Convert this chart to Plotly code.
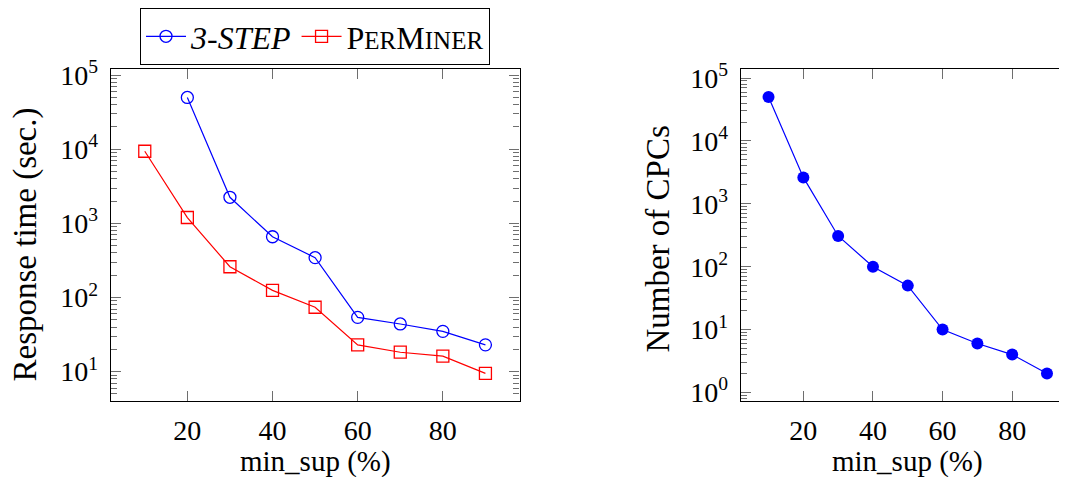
import plotly.graph_objects as go

# ---- data ----
min_sup = [10, 20, 30, 40, 50, 60, 70, 80, 90]
step3_x = [20, 30, 40, 50, 60, 70, 80, 90]
step3_time = [50000, 2250, 660, 345, 54, 44, 35, 23]
perminer_x = [10, 20, 30, 40, 50, 60, 70, 80, 90]
perminer_time = [9400, 1200, 260, 125, 74, 23, 18.3, 16.2, 9.5]
cpc_count = [50000, 2630, 308, 100, 50, 10, 6, 4, 2]

x_ticks = [20, 40, 60, 80]
y1_ticks = [1, 2, 3, 4, 5]
y2_ticks = [0, 1, 2, 3, 4, 5]

FONT = "Liberation Serif"
OFF = 8  # page body margin
W, H = 1067 - OFF, 477 - OFF
BLUE = "#0000ff"
RED = "#ff0000"
TICKC = "#6e6e6e"
TICK_FS = 28

fig = go.Figure()

fig.add_trace(go.Scatter(
    x=step3_x, y=step3_time, mode="lines+markers", name="<i>3-STEP</i>",
    line=dict(color=BLUE, width=1.2),
    marker=dict(symbol="circle-open", size=12, color=BLUE, line=dict(width=1.3)),
    xaxis="x", yaxis="y"))
fig.add_trace(go.Scatter(
    x=perminer_x, y=perminer_time, mode="lines+markers",
    name="P<span style='font-size:25px'>ER</span>M<span style='font-size:25px'>INER</span>",
    line=dict(color=RED, width=1.2),
    marker=dict(symbol="square-open", size=12, color=RED, line=dict(width=1.3)),
    xaxis="x", yaxis="y"))
fig.add_trace(go.Scatter(
    x=min_sup, y=cpc_count, mode="lines+markers", showlegend=False,
    line=dict(color=BLUE, width=1.2),
    marker=dict(symbol="circle", size=12, color=BLUE),
    xaxis="x2", yaxis="y2"))

def px_x(p):
    return (p - OFF) / W

def px_y(p):
    return 1 - (p - OFF) / H

ydom = [px_y(400.7), px_y(66.7)]

common_x = dict(
    showgrid=False, zeroline=False, showline=True, linecolor="black", linewidth=1.2,
    ticks="inside", ticklen=10, tickcolor=TICKC, tickwidth=1,
    tickmode="array", tickvals=x_ticks, ticktext=[str(v) for v in x_ticks],
    tickfont=dict(family=FONT, size=TICK_FS, color="black"),
    ticklabelstandoff=4, automargin=False,
)
minor_y = dict(ticks="inside", ticklen=6, tickcolor=TICKC, tickwidth=1, dtick="D1", showgrid=False)

fig.update_layout(
    width=W, height=H,
    margin=dict(l=0, r=0, t=0, b=0),
    paper_bgcolor="white", plot_bgcolor="white",
    font=dict(family=FONT, size=TICK_FS, color="black"),
    xaxis=dict(domain=[px_x(110.7), px_x(519.5)], range=[2, 98], mirror="ticks",
               anchor="y", **common_x),
    yaxis=dict(domain=ydom, type="log", range=[0.602, 5.078], anchor="x",
               showgrid=False, zeroline=False, showline=True, linecolor="black", linewidth=1.2,
               mirror="ticks", ticks="inside", ticklen=10, tickcolor=TICKC, tickwidth=1,
               tickmode="array", tickvals=[10 ** v for v in y1_ticks],
               ticktext=["10<sup>%d</sup>" % v for v in y1_ticks],
               tickfont=dict(family=FONT, size=TICK_FS, color="black"),
               ticklabelstandoff=6, minor=minor_y, automargin=False),
    xaxis2=dict(domain=[px_x(740.7), 1.0], range=[2, 95.75], mirror="ticks",
                anchor="y2", **common_x),
    yaxis2=dict(domain=ydom, type="log", range=[-0.139, 5.139], anchor="x2",
                showgrid=False, zeroline=False, showline=True, linecolor="black", linewidth=1.2,
                mirror=False, ticks="inside", ticklen=10, tickcolor=TICKC, tickwidth=1,
                tickmode="array", tickvals=[10 ** v for v in y2_ticks],
                ticktext=["10<sup>%d</sup>" % v for v in y2_ticks],
                tickfont=dict(family=FONT, size=TICK_FS, color="black"),
                ticklabelstandoff=6, minor=minor_y, automargin=False),
    showlegend=True,
    legend=dict(orientation="h", x=px_x(315), y=px_y(33.5), xanchor="center", yanchor="middle",
                bordercolor="black", borderwidth=1, bgcolor="white",
                font=dict(family=FONT, size=32, color="black"),
                itemwidth=40, tracegroupgap=0),
)

ann = [
    dict(text="Response time (sec.)", x=px_x(25), y=px_y(243), textangle=-90, size=33),
    dict(text="min_sup (%)", x=px_x(315), y=px_y(461.5), textangle=0, size=29),
    dict(text="Number of CPCs", x=px_x(658.5), y=px_y(237.5), textangle=-90, size=33),
    dict(text="min_sup (%)", x=px_x(907), y=px_y(461.5), textangle=0, size=29),
]
for a in ann:
    fig.add_annotation(text=a["text"], x=a["x"], y=a["y"], xref="paper", yref="paper",
                       xanchor="center", yanchor="middle", textangle=a["textangle"],
                       showarrow=False, font=dict(family=FONT, size=a["size"], color="black"))

fig.write_html("out.html")
